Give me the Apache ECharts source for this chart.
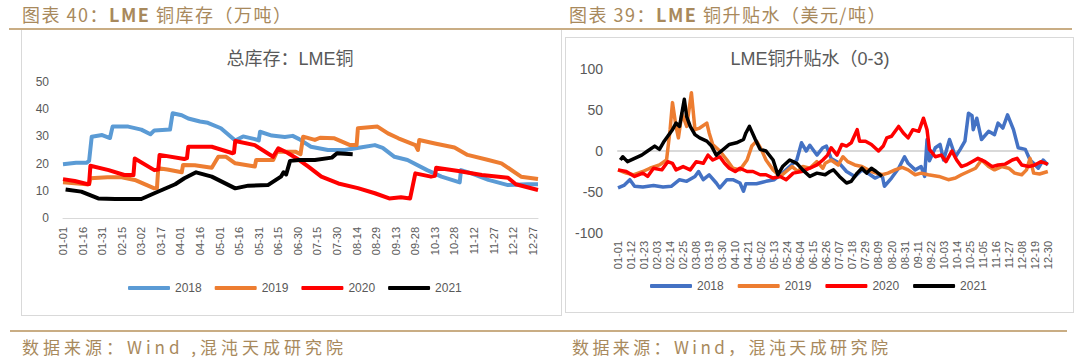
<!DOCTYPE html>
<html lang="zh">
<head>
<meta charset="UTF-8">
<title>LME铜库存与升贴水</title>
<script src="https://cdn.jsdelivr.net/npm/echarts@6/dist/echarts.min.js"></script>
<style>
    body{margin:0;width:1080px;height:358px;background:#fff;position:relative;overflow:hidden;font-family:"Noto Sans CJK SC",sans-serif}
    .hd{position:absolute;top:4px;font-size:18px;line-height:20px;color:#a8895c;letter-spacing:1.5px;white-space:nowrap}
    .ft{position:absolute;top:338px;font-size:17px;line-height:18px;color:#a8895c;letter-spacing:4px;white-space:nowrap}
    .rule{position:absolute;height:2px;background:#c9ad84}
    .box{position:absolute;border:1px solid #d9d9d9;background:#fff}
    #left,#right{position:absolute;top:0;height:330px}
</style>
</head>
<body>
<div class="hd" style="left:22px">图表 40：<b>LME</b> 铜库存（万吨）</div>
<div class="hd" style="left:569px">图表 39：<b>LME</b> 铜升贴水（美元/吨）</div>
<div class="box" style="left:21px;top:29px;width:539px;height:285px"></div>
<div class="box" style="left:565px;top:37px;width:507px;height:274px"></div>
<div class="rule" style="left:9px;top:28px;width:1063px"></div>
<div class="rule" style="left:10px;top:330px;width:1057px"></div>
<div class="ft" style="left:22px">数据来源：Wind ,混沌天成研究院</div>
<div class="ft" style="left:572px;letter-spacing:3.4px">数据来源：Wind，混沌天成研究院</div>
<div id="left" style="left:0;width:560px"></div>
<div id="right" style="left:560px;width:520px"></div>

<script type="text/javascript">
    // categories: every day of the year, MM-DD
    var monthLen = [31,28,31,30,31,30,31,31,30,31,30,31];
    var days = [];
    for (var m = 0; m < 12; m++) {
        for (var d = 1; d <= monthLen[m]; d++) {
            days.push((m < 9 ? '0' : '') + (m + 1) + '-' + (d < 10 ? '0' : '') + d);
        }
    }
    var years = ['2018', '2019', '2020', '2021'];

    // LME copper inventory (10k t), [day index, value]
    var inv2018 = [[0,19.8],[10,20.3],[18,20.3],[20,21],[22,29.9],[30,30.5],[36,29.4],[38,33.6],[50,33.6],[60,32.5],[67,30.8],[70,32.2],[82,32.5],[84,38.5],[91,37.8],[96,36.6],[105,35.5],[111,35],[121,33],[132,28.5],[138,30],[147,29],[150,28.5],[151,31.7],[160,30.3],[170,29.8],[176,30.2],[181,29],[190,26.2],[203,25],[216,25],[229,26],[239,26.8],[245,25.8],[254,22.5],[264,21.3],[279,17.6],[290,15.2],[304,13.1],[305,17.6],[313,16.4],[326,14],[341,12.1],[356,12.4],[364,12.4]];
    var inv2019 = [[0,13.1],[18,12.4],[20,12.5],[21,14.6],[34,15],[45,15],[55,14],[70,10.9],[72,11],[73,18.3],[80,17.8],[91,16.8],[92,19.5],[101,19.4],[114,18.5],[119,22.5],[125,22.5],[132,20.1],[147,18.9],[148,21.3],[161,21.3],[164,24.4],[178,24.4],[182,23.5],[184,29.9],[193,28.7],[197,29.5],[208,29.3],[220,26.8],[225,26.8],[226,33],[241,33.6],[249,31.1],[257,29.3],[270,26.8],[272,25],[273,28.7],[285,27.4],[300,25.9],[310,23.2],[326,21.3],[336,20.1],[351,15.2],[364,14.3]];
    var inv2020 = [[0,14.3],[9,13.6],[19,12.4],[20,12.5],[21,19.2],[35,17.6],[47,15.8],[54,15.8],[55,21.9],[70,17.6],[73,17.8],[74,23.2],[93,21.7],[95,22],[96,26.2],[114,26.2],[130,23.8],[131,24],[132,28.3],[147,26.8],[161,22.5],[165,25.6],[172,24],[181,21.3],[188,18.9],[198,15.2],[211,12.7],[226,11],[239,9.1],[250,7.2],[259,7.6],[266,7.2],[270,16.4],[282,15.2],[285,15.5],[286,18.5],[303,17.3],[321,15.8],[341,14.8],[347,12.4],[364,10.3]];
    var inv2021 = [[2,10.5],[14,9.7],[27,7.2],[40,7],[60,7],[70,9.1],[86,12.4],[93,14.6],[102,16.8],[114,15.2],[132,10.9],[142,11.9],[157,12.1],[167,15.2],[169,16.8],[171,16],[174,21],[181,21.3],[193,21.3],[206,22.2],[210,23.8],[222,23.4]];

    // LME copper 0-3 spread (USD/t), [day index, value]
    var sp2018 = [[0,-45],[5,-42],[10,-35],[14,-43],[21,-44],[30,-42],[38,-44],[45,-43],[52,-35],[58,-37],[65,-31],[68,-25],[72,-35],[77,-29],[83,-39],[86,-45],[92,-35],[97,-35],[103,-39],[106,-49],[108,-40],[117,-40],[125,-37],[132,-35],[139,-27],[145,-19],[151,-11],[155,10],[159,0],[162,7],[168,-5],[173,4],[176,6],[180,-9],[187,-15],[193,-25],[200,-31],[206,-23],[213,-29],[217,-33],[223,-29],[225,-43],[231,-33],[237,-21],[242,-7],[245,-15],[251,-23],[256,-19],[259,-31],[261,14],[263,-12],[268,4],[272,8],[275,-11],[280,14],[285,-7],[289,2],[293,12],[296,46],[299,43],[300,26],[303,40],[307,14],[313,24],[318,20],[321,34],[325,28],[329,44],[334,26],[338,4],[344,2],[348,-11],[351,-15],[355,-21],[359,-11],[363,-17]];
    var sp2019 = [[0,-23],[7,-27],[13,-29],[21,-25],[27,-21],[35,-17],[41,-11],[44,26],[46,59],[49,30],[51,16],[54,46],[58,30],[62,71],[65,26],[69,28],[75,34],[77,22],[80,8],[86,0],[92,-11],[97,-21],[103,-23],[109,-11],[113,6],[117,12],[121,2],[125,-11],[131,-23],[137,-31],[142,-25],[147,-19],[152,-25],[156,-19],[162,-21],[168,-13],[173,-21],[175,-15],[180,-11],[186,-17],[190,-7],[194,-13],[200,-17],[206,-19],[214,-25],[223,-29],[228,-27],[234,-23],[240,-20],[245,-23],[251,-29],[256,-27],[262,-29],[271,-31],[279,-35],[285,-33],[290,-29],[296,-25],[302,-21],[307,-11],[313,-19],[318,-23],[324,-19],[330,-21],[335,-27],[341,-29],[345,-23],[348,-9],[351,-27],[356,-28],[363,-25]];
    var sp2020 = [[0,-23],[7,-25],[14,-31],[21,-27],[25,-31],[30,-21],[37,-23],[42,-13],[46,-15],[49,-23],[55,-19],[61,-23],[66,-13],[72,-15],[76,-5],[80,-11],[86,-7],[90,-15],[94,-21],[99,-25],[103,-21],[109,-25],[114,-25],[120,-29],[125,-29],[131,-33],[137,-31],[142,-35],[148,-27],[155,-25],[162,-21],[168,-17],[173,-11],[177,-5],[180,4],[185,-5],[189,8],[193,6],[197,10],[202,26],[204,12],[209,12],[214,8],[220,0],[224,6],[227,16],[231,18],[237,30],[241,22],[245,16],[249,26],[254,24],[258,40],[261,26],[263,2],[268,-7],[273,-5],[277,-13],[282,0],[286,-11],[290,-19],[294,-17],[299,-13],[304,-9],[310,-13],[316,-19],[321,-17],[327,-16],[333,-11],[337,-9],[341,-17],[347,-19],[352,-17],[357,-13],[363,-16]];
    var sp2021 = [[2,-11],[4,-7],[8,-13],[14,-9],[20,-5],[25,0],[31,6],[35,2],[39,12],[44,22],[46,26],[49,34],[52,30],[56,63],[58,42],[61,30],[65,20],[69,16],[75,12],[79,6],[83,-5],[89,2],[94,8],[100,10],[106,14],[108,22],[111,30],[116,14],[120,2],[125,0],[131,-11],[135,-29],[139,-19],[145,-11],[151,-15],[156,-23],[162,-31],[168,-27],[175,-29],[179,-25],[182,-23],[187,-31],[193,-39],[197,-37],[202,-27],[206,-21],[210,-27],[214,-21],[218,-25],[223,-31]];

    var font = "'Liberation Sans','Noto Sans CJK SC',sans-serif";

    function lineSeries(name, data, color, width, axis) {
        return {
            name: name, type: 'line', data: data, xAxisIndex: axis || 0,
            symbol: 'none', color: color,
            lineStyle: {width: width, color: color, join: 'round'}
        };
    }

    var leftChart = echarts.init(document.getElementById('left'), null, {renderer: 'svg'});
    leftChart.setOption({
        animation: false,
        textStyle: {fontFamily: font},
        title: {
            text: '总库存：LME铜', left: 290, top: 50, padding: 0, textAlign: 'center',
            textStyle: {fontSize: 18, fontWeight: 'normal', color: '#595959', fontFamily: font}
        },
        legend: {
            left: 128, top: 282, padding: 0, itemWidth: 42, itemHeight: 4, itemGap: 13,
            icon: 'roundRect', data: years,
            textStyle: {fontSize: 12, color: '#595959'}
        },
        grid: {left: 63, top: 82, width: 475, height: 136},
        xAxis: {
            type: 'category', data: days, boundaryGap: false,
            axisLine: {lineStyle: {color: '#d9d9d9', width: 1}},
            axisTick: {show: false},
            axisLabel: {interval: 14, rotate: 90, fontSize: 11, color: '#595959', margin: 9}
        },
        yAxis: {
            type: 'value', min: 0, max: 50, interval: 10,
            splitLine: {show: false},
            axisLabel: {fontSize: 12, color: '#595959', margin: 14}
        },
        series: [
            lineSeries('2018', inv2018, '#5b9bd5', 4),
            lineSeries('2019', inv2019, '#ed7d31', 4),
            lineSeries('2020', inv2020, '#ff0000', 4),
            lineSeries('2021', inv2021, '#000000', 4)
        ]
    });

    var rightChart = echarts.init(document.getElementById('right'), null, {renderer: 'svg'});
    rightChart.setOption({
        animation: false,
        textStyle: {fontFamily: font},
        title: {
            text: 'LME铜升贴水（0-3)', left: 250, top: 50, padding: 0, textAlign: 'center',
            textStyle: {fontSize: 18, fontWeight: 'normal', color: '#595959', fontFamily: font}
        },
        legend: {
            left: 90, top: 280, padding: 0, itemWidth: 42, itemHeight: 4, itemGap: 14,
            icon: 'roundRect', data: years,
            textStyle: {fontSize: 12, color: '#595959'}
        },
        grid: {left: 58, top: 69, width: 431, height: 164},
        xAxis: [{
            // zero line
            type: 'category', data: days, boundaryGap: false,
            axisLine: {onZero: true, lineStyle: {color: '#d9d9d9', width: 2}},
            axisTick: {show: false}, axisLabel: {show: false}
        }, {
            type: 'category', data: days, boundaryGap: false, position: 'bottom',
            axisLine: {show: false}, axisTick: {show: false},
            axisLabel: {interval: 10, rotate: 90, fontSize: 11, color: '#595959', margin: 8}
        }],
        yAxis: {
            type: 'value', min: -100, max: 100, interval: 50,
            splitLine: {show: false},
            axisLabel: {fontSize: 14, color: '#595959', margin: 15}
        },
        series: [
            lineSeries('2018', sp2018, '#4472c4', 3.5),
            lineSeries('2019', sp2019, '#ed7d31', 3.5),
            lineSeries('2020', sp2020, '#ff0000', 3.5),
            lineSeries('2021', sp2021, '#000000', 3.5)
        ]
    });
</script>
</body>
</html>
